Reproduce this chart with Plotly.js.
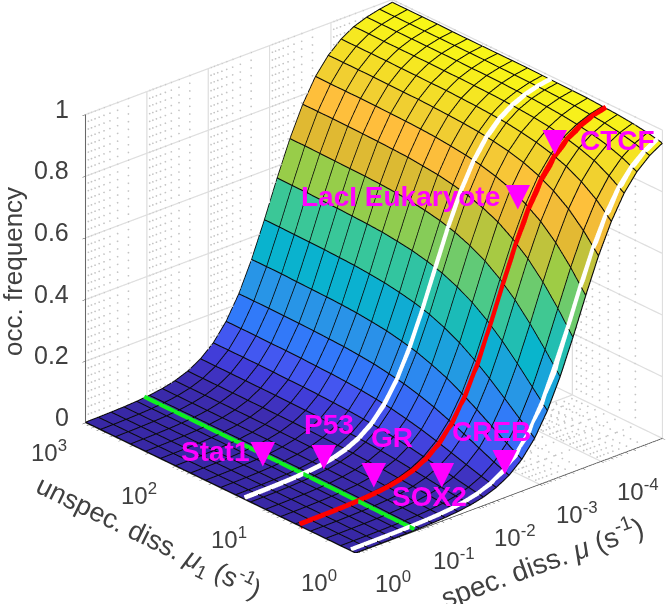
<!DOCTYPE html>
<html><head><meta charset="utf-8"><script src="https://cdn.plot.ly/plotly-3.0.0.min.js"></script>
<style>html,body{margin:0;padding:0;background:#fff}#c{width:667px;height:604px}</style></head><body><div id="c"></div>
<script>
// x = decades below 10^0 of spec. diss. mu ; y = decades above 10^0 of unspec. diss. mu1
const specDecades=[0,.208,.417,.625,.833,1.042,1.25,1.458,1.667,1.875,2.083,2.292,2.5,2.708,2.917,3.125,3.333,3.542,3.75,3.958,4.167,4.375,4.583,4.792,5];
const unspecDecades=[0,.167,.333,.5,.667,.833,1,1.167,1.333,1.5,1.667,1.833,2,2.167,2.333,2.5,2.667,2.833,3];
const occ=[
[.0002,.0004,.0006,.0009,.0015,.0024,.0039,.0063,.0102,.0164,.0262,.0418,.0656,.102,.155,.229,.324,.436,.556,.669,.765,.841,.895,.932,.957],
[.0003,.0005,.0008,.0012,.002,.0032,.0052,.0084,.0134,.0216,.0343,.0544,.0849,.131,.195,.282,.388,.506,.623,.727,.812,.874,.918,.948,.967],
[.0004,.0006,.001,.0016,.0026,.0041,.0067,.0107,.0172,.0275,.0437,.0689,.107,.162,.237,.335,.448,.568,.68,.774,.847,.9,.935,.959,.974],
[.0005,.0008,.0012,.002,.0032,.0051,.0083,.0132,.0213,.0339,.0536,.084,.129,.193,.278,.384,.502,.62,.725,.809,.873,.917,.947,.967,.979],
[.0006,.0009,.0015,.0024,.0038,.0061,.0098,.0158,.0253,.0402,.0633,.0986,.15,.222,.315,.427,.546,.66,.758,.835,.891,.93,.955,.972,.982],
[.0006,.001,.0017,.0027,.0044,.007,.0113,.0182,.029,.0461,.0723,.112,.169,.248,.347,.462,.581,.692,.784,.854,.904,.939,.961,.976,.985],
[.0007,.0012,.0019,.003,.0049,.0078,.0126,.0202,.0322,.0511,.0799,.123,.185,.268,.372,.489,.607,.714,.801,.867,.913,.945,.965,.978,.986],
[.0008,.0013,.002,.0033,.0053,.0085,.0137,.0219,.0349,.0553,.0862,.133,.198,.285,.392,.51,.627,.731,.814,.876,.92,.949,.968,.98,.987],
[.0008,.0013,.0022,.0035,.0056,.009,.0145,.0232,.037,.0585,.091,.14,.207,.297,.406,.525,.641,.742,.823,.883,.924,.952,.969,.981,.988],
[.0009,.0014,.0023,.0036,.0059,.0094,.0152,.0242,.0386,.0609,.0948,.145,.215,.307,.416,.536,.651,.751,.829,.887,.927,.954,.971,.982,.989],
[.0009,.0014,.0023,.0037,.006,.0097,.0156,.0249,.0397,.0627,.0973,.149,.22,.313,.424,.543,.658,.756,.834,.89,.929,.955,.972,.982,.989],
[.0009,.0015,.0024,.0038,.0062,.0099,.016,.0255,.0406,.064,.0994,.152,.224,.318,.429,.549,.663,.761,.837,.892,.931,.956,.972,.983,.989],
[.0009,.0015,.0024,.0039,.0063,.0101,.0162,.0259,.0412,.0649,.101,.153,.226,.321,.433,.552,.666,.763,.839,.894,.931,.956,.973,.983,.989],
[.0009,.0015,.0024,.0039,.0063,.0102,.0163,.0261,.0415,.0654,.101,.155,.228,.323,.435,.554,.668,.765,.84,.894,.932,.957,.973,.983,.989],
[.0009,.0015,.0024,.004,.0064,.0102,.0164,.0263,.0418,.0659,.102,.156,.229,.324,.437,.556,.669,.766,.841,.895,.932,.957,.973,.983,.989],
[.0009,.0015,.0025,.004,.0064,.0103,.0165,.0264,.042,.0661,.103,.156,.23,.325,.438,.557,.67,.767,.842,.896,.933,.957,.973,.983,.99],
[.0009,.0015,.0025,.004,.0064,.0103,.0166,.0265,.0422,.0664,.103,.157,.231,.327,.439,.559,.671,.768,.842,.896,.933,.957,.973,.983,.99],
[.001,.0015,.0025,.004,.0064,.0104,.0166,.0266,.0422,.0665,.103,.157,.231,.327,.44,.559,.672,.768,.842,.896,.933,.958,.973,.983,.99],
[.001,.0015,.0025,.004,.0065,.0104,.0167,.0266,.0423,.0667,.103,.157,.231,.327,.44,.56,.672,.768,.843,.896,.933,.958,.973,.983,.99]
];
// overlaid curves at fixed unspec. diss.
const redUnspec=.62, whiteUnspec=1.23, edgeUnspec=.05;
const redOcc=[.0006,.0009,.0014,.0023,.0036,.0058,.0094,.015,.0241,.0384,.0605,.0944,.144,.214,.305,.414,.533,.648,.749,.828,.886,.926,.953,.97,.981];
const whiteOcc=[.0008,.0013,.0021,.0034,.0054,.0087,.014,.0224,.0357,.0565,.0881,.136,.201,.29,.397,.516,.632,.735,.817,.879,.922,.95,.968,.98,.987];
const edgeOcc=[.0002,.0004,.0007,.001,.0017,.0027,.0043,.007,.0112,.018,.0286,.0456,.0714,.111,.167,.246,.348,.457,.576,.686,.779,.851,.902,.937,.96];
// overlaid curve at fixed spec. diss.
const greenSpec=.95;
const greenOcc=[.002,.0026,.0034,.0041,.005,.0057,.0063,.0069,.0073,.0076,.0079,.0081,.0082,.0083,.0083,.0083,.0084,.0084,.0085];
// transcription factors
const tfNames=['Stat1','P53','GR','SOX2','CREB','LacI Eukaryote','CTCF'];
const tfSpec=[.97,1.37,1.47,2.02,2.56,3.72,4.29];
const tfUnspec=[1.69,1.29,.8,.42,.09,.73,.715];
const tfOcc=[.006,.02,.02,.045,.09,.76,.918];
const tfLabelDx=[-48,5,18,-12,-13,-118,63];
const tfLabelDy=[4,35,41,-22,31,5,0];
const tfMarkerDy=[4,5,6,2,3,7,1];
// colour map: level, r, g, b
const cmapLevels=[0,.05,.1,.15,.225,.33,.445,.563,.676,.77,.84,.89,.95,1];
const cmapR=[56,62,65,68,50,40,8,60,155,225,255,240,245,249];
const cmapG=[40,45,60,85,120,150,180,200,205,185,190,205,228,251];
const cmapB=[165,180,215,240,250,230,205,150,70,50,60,50,35,20];
const zTicks=[0,.2,.4,.6,.8,1];
const zTickText=['0','0.2','0.4','0.6','0.8','1'];
const specMajor=[0,1,2,3,4,5];
const specLabels=[0,1,2,3,4];
const unspecMajor=[0,1,2,3];
const minorMult=[2,3,4,5,6,7,8,9];

const CAM_D=2, SCALE=1.232, DOT_STEP=.025, LIFT=.003, FLOOR_FROM=2.8;
const TEXT='#404040', FONT='"Liberation Sans",Arial,sans-serif';

function cmap(v){let i=0;while(i<cmapLevels.length-2&&v>cmapLevels[i+1])i++;
  const t=Math.min(1,Math.max(0,(v-cmapLevels[i])/(cmapLevels[i+1]-cmapLevels[i])));
  const f=a=>Math.round(a[i]+(a[i+1]-a[i])*t);
  return `rgb(${f(cmapR)},${f(cmapG)},${f(cmapB)})`;}

const nx=specDecades.length, ny=unspecDecades.length;
const vx=[],vy=[],vz=[],ti=[],tj=[],tk=[],fc=[];
for(let j=0;j<ny;j++)for(let k=0;k<nx;k++){vx.push(specDecades[k]);vy.push(unspecDecades[j]);vz.push(occ[j][k]);}
for(let j=0;j<ny-1;j++)for(let k=0;k<nx-1;k++){
  const a=j*nx+k,b=a+1,c=a+nx+1,d=a+nx,col=cmap(occ[j+1][k+1]);
  ti.push(a,a);tj.push(b,c);tk.push(c,d);fc.push(col,col);
}
const mesh={type:'mesh3d',x:vx,y:vy,z:vz,i:ti,j:tj,k:tk,facecolor:fc,flatshading:true,
  lighting:{ambient:1,diffuse:0,specular:0,fresnel:0,roughness:1},hoverinfo:'skip',showscale:false};

// wireframe
const wx=[],wy=[],wz=[];
for(let j=0;j<ny;j++){for(let k=0;k<nx;k++){wx.push(specDecades[k]);wy.push(unspecDecades[j]);wz.push(occ[j][k]+LIFT*.4);}wx.push(null);wy.push(null);wz.push(null);}
for(let k=0;k<nx;k++){for(let j=0;j<ny;j++){wx.push(specDecades[k]);wy.push(unspecDecades[j]);wz.push(occ[j][k]+LIFT*.4);}wx.push(null);wy.push(null);wz.push(null);}
const wire={type:'scatter3d',mode:'lines',x:wx,y:wy,z:wz,line:{color:'#0a0a0a',width:2.2},hoverinfo:'skip',connectgaps:false};

const atUnspec=(u,zs,col,w)=>({type:'scatter3d',mode:'lines',x:specDecades,y:specDecades.map(()=>u),z:zs.map(v=>v+LIFT),line:{color:col,width:w},hoverinfo:'skip'});
const red=atUnspec(redUnspec,redOcc,'#ff0000',15);
const white=atUnspec(whiteUnspec,whiteOcc,'#ffffff',14);
const edge=atUnspec(edgeUnspec,edgeOcc,'#ffffff',12);
const green={type:'scatter3d',mode:'lines',x:unspecDecades.map(()=>greenSpec),y:unspecDecades,z:greenOcc.map(v=>v+LIFT),line:{color:'#10f020',width:12},hoverinfo:'skip'};

// walls: major grid
const gx=[],gy=[],gz=[];
const seg=(a,b)=>{gx.push(a[0],b[0],null);gy.push(a[1],b[1],null);gz.push(a[2],b[2],null);};
zTicks.forEach(z=>{if(z>0){seg([0,3,z],[5,3,z]);seg([5,0,z],[5,3,z]);}});
specMajor.forEach(x=>{seg([x,3,0],[x,3,1]);if(x>=FLOOR_FROM)seg([x,0,0],[x,3,0]);});
unspecMajor.forEach(y=>{seg([5,y,0],[5,y,1]);seg([FLOOR_FROM,y,0],[5,y,0]);});
const grid={type:'scatter3d',mode:'lines',x:gx,y:gy,z:gz,line:{color:'#dedede',width:2.4},hoverinfo:'skip',connectgaps:false};

// walls: minor dotted log grid
const specMinor=[],unspecMinor=[];
[0,1,2,3,4].forEach(d=>minorMult.forEach(m=>specMinor.push(d+1-Math.log10(m))));
[0,1,2].forEach(d=>minorMult.forEach(m=>unspecMinor.push(d+Math.log10(m))));
const dx=[],dy=[],dz=[];
for(let z=DOT_STEP;z<=1.0001;z+=DOT_STEP){
  specMinor.forEach(x=>{dx.push(x);dy.push(3);dz.push(z);});
  unspecMinor.forEach(y=>{dx.push(5);dy.push(y);dz.push(z);});
}
for(let y=0;y<=3.0001;y+=DOT_STEP*3){specMinor.forEach(x=>{if(x>FLOOR_FROM){dx.push(x);dy.push(y);dz.push(0);}});}
for(let x=FLOOR_FROM;x<=5.0001;x+=DOT_STEP*5){unspecMinor.forEach(y=>{dx.push(x);dy.push(y);dz.push(0);});}
const dots={type:'scatter3d',mode:'markers',x:dx,y:dy,z:dz,marker:{size:1,color:'#c4c4c4',line:{width:0}},hoverinfo:'skip'};

const axisBase={showgrid:false,zeroline:false,showbackground:false,showspikes:false,showticklabels:false,showline:true,linecolor:TEXT,linewidth:1.5,
  ticks:'outside',tickcolor:TEXT,tickwidth:1,ticklen:4,tickmode:'array',title:{text:''}};

const anns=[];
const tickFont={family:FONT,size:24,color:TEXT};
specLabels.forEach(d=>anns.push({x:d,y:0,z:0,text:d===0?'10<sup>0</sup>':`10<sup>-${d}</sup>`,showarrow:false,font:tickFont,xshift:37,yshift:-29,xanchor:'center',yanchor:'middle'}));
unspecMajor.forEach(d=>anns.push({x:0,y:d,z:0,text:`10<sup>${d}</sup>`,showarrow:false,font:tickFont,xshift:-37,yshift:-28,xanchor:'center',yanchor:'middle'}));
zTicks.forEach((z,i)=>anns.push({x:0,y:3,z:z,text:zTickText[i],showarrow:false,font:{family:FONT,size:25,color:TEXT},xshift:-15,yshift:6,xanchor:'right',yanchor:'middle'}));
tfNames.forEach((n,i)=>{
  anns.push({x:tfSpec[i],y:tfUnspec[i],z:tfOcc[i],text:'▼',showarrow:false,font:{family:FONT,size:42,color:'#ff00ff'},yshift:tfMarkerDy[i],xanchor:'center',yanchor:'middle'});
  anns.push({x:tfSpec[i],y:tfUnspec[i],z:tfOcc[i],text:'<b>'+n+'</b>',showarrow:false,font:{family:FONT,size:28,color:'#ff00ff'},xshift:tfLabelDx[i],yshift:tfLabelDy[i],xanchor:'center',yanchor:'middle'});
});

const dir=[-.598,-.679,.4255];
const layout={width:667,height:604,margin:{l:0,r:0,t:0,b:0},paper_bgcolor:'#fff',showlegend:false,hovermode:false,
  scene:{domain:{x:[.1214,1],y:[.0844,1]},aspectmode:'manual',aspectratio:{x:1.2*SCALE,y:1.2*SCALE,z:SCALE},
    camera:{eye:{x:dir[0]*CAM_D,y:dir[1]*CAM_D,z:dir[2]*CAM_D},center:{x:0,y:0,z:0},up:{x:0,y:0,z:1},projection:{type:'orthographic'}},
    bgcolor:'#fff',
    xaxis:Object.assign({},axisBase,{range:[0,5],tickvals:specMajor.concat(specMinor)}),
    yaxis:Object.assign({},axisBase,{range:[0,3],tickvals:unspecMajor.concat(unspecMinor)}),
    zaxis:Object.assign({},axisBase,{range:[0,1],tickvals:zTicks,ticklen:7}),
    annotations:anns},
  annotations:[
    {xref:'paper',yref:'paper',x:13/667,y:1-272/604,text:'occ. frequency',textangle:-90,showarrow:false,font:{family:FONT,size:26,color:TEXT},xanchor:'center',yanchor:'middle'},
    {xref:'paper',yref:'paper',x:149/667,y:1-537/604,text:'unspec. diss. <i>μ</i><sub>1</sub> (s<sup>-1</sup>)',textangle:26,showarrow:false,font:{family:FONT,size:27,color:TEXT},xanchor:'center',yanchor:'middle'},
    {xref:'paper',yref:'paper',x:541/667,y:1-561/604,text:'spec. diss. <i>μ</i> (s<sup>-1</sup>)',textangle:-20,showarrow:false,font:{family:FONT,size:28,color:TEXT},xanchor:'center',yanchor:'middle'}
  ]};
Plotly.newPlot('c',[grid,dots,mesh,wire,green,edge,white,red],layout,{displayModeBar:false,responsive:false});
</script></body></html>
